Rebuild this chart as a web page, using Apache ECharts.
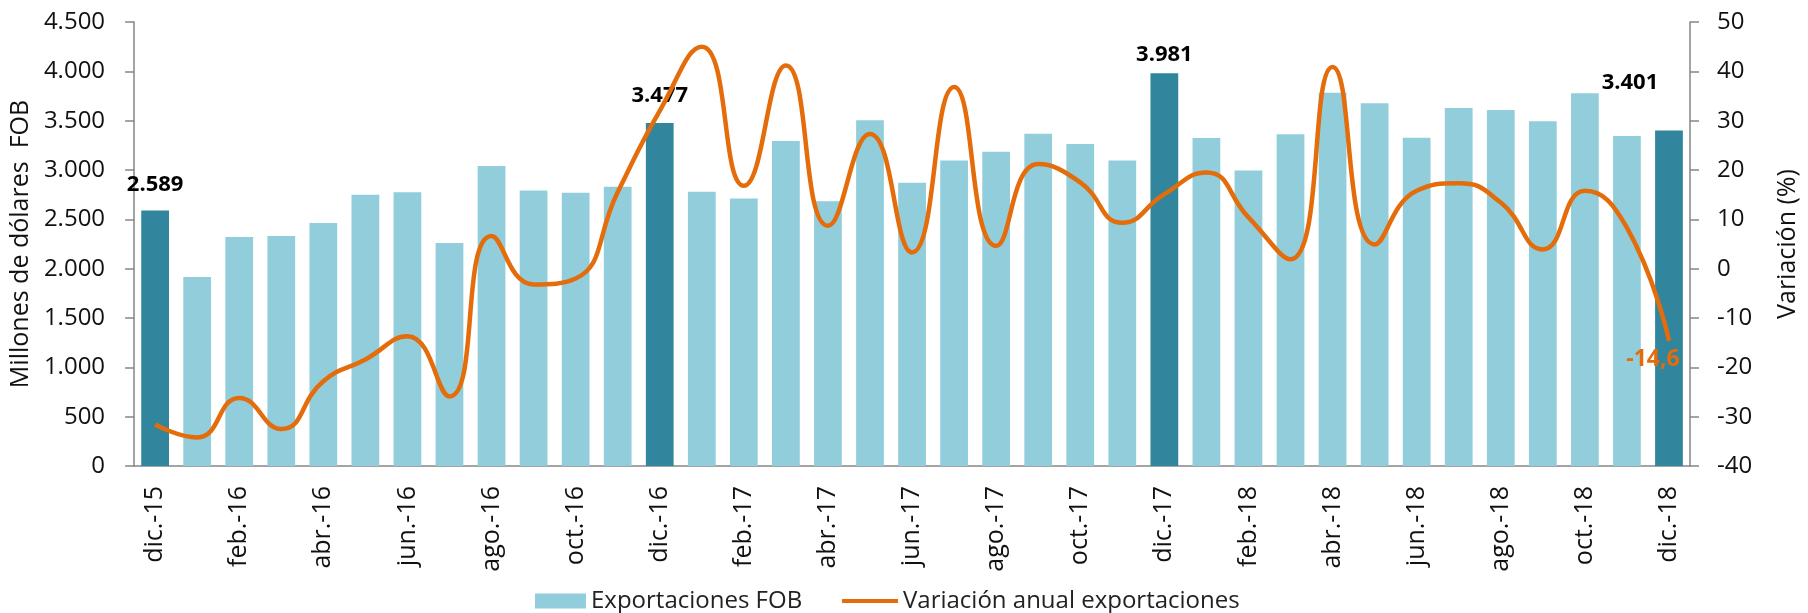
<!DOCTYPE html>
<html>
<head>
<meta charset="utf-8">
<script src="https://cdn.jsdelivr.net/npm/echarts@6/dist/echarts.min.js"></script>
<style>
  html, body { margin: 0; padding: 0; background: #fff; }
  #chart { width: 1808px; height: 613px; }
</style>
</head>
<body>
<div id="chart"></div>
<script>
const months = [
  'dic.-15',
  'ene.-16', 'feb.-16', 'mar.-16', 'abr.-16', 'may.-16', 'jun.-16', 'jul.-16', 'ago.-16', 'sep.-16', 'oct.-16', 'nov.-16', 'dic.-16',
  'ene.-17', 'feb.-17', 'mar.-17', 'abr.-17', 'may.-17', 'jun.-17', 'jul.-17', 'ago.-17', 'sep.-17', 'oct.-17', 'nov.-17', 'dic.-17',
  'ene.-18', 'feb.-18', 'mar.-18', 'abr.-18', 'may.-18', 'jun.-18', 'jul.-18', 'ago.-18', 'sep.-18', 'oct.-18', 'nov.-18', 'dic.-18',
]

// Exportaciones FOB, millones de dolares
const exportsFob = [
  2589,
  1915, 2321, 2331, 2464, 2748, 2775, 2260, 3040, 2792, 2769, 2830, 3477,
  2779, 2711, 3294, 2684, 3504, 2870, 3097, 3185, 3368, 3263, 3097, 3981,
  3324, 2996, 3362, 3782, 3677, 3328, 3629, 3609, 3494, 3778, 3345, 3401,
]

// Variacion anual, %
const variation = [
  -31.6,
  -34.2, -26.2, -32.5, -22.8, -18.4, -13.7, -25.9, 6.6, -3.2, -2.0, 15.5, 32.0,
  45.0, 16.8, 41.2, 8.7, 27.3, 3.3, 36.8, 4.6, 21.2, 17.5, 9.3, 15.1,
  19.5, 10.4, 1.9, 40.9, 4.9, 15.8, 17.3, 13.4, 3.9, 15.8, 8.3, -14.6,
]

// December months get the dark bar and a value label
const highlighted = [0, 12, 24, 36]

const LIGHT = '#92CDDC'
const DARK = '#31859C'
const ORANGE = '#E46C0A'
const AXIS = '#868686'
const FONT = 'Open Sans'

const fmtThousands = (v) => String(v).replace(/\B(?=(\d{3})+(?!\d))/g, '.')

// label placement tweaks for the december bars
const labelPlace = {
  0: { distance: 15, offset: [0, 0] },
  12: { distance: 16, offset: [0, 0] },
  24: { distance: 7, offset: [0, 0] },
  36: { distance: 8, offset: [-39, -29] },
}

const barData = exportsFob.map((v, i) => {
  const hi = highlighted.includes(i)
  const item = { value: v, itemStyle: { color: hi ? DARK : LIGHT } }
  if (hi) item.label = { show: true, position: 'top', ...labelPlace[i] }
  return item
})

const last = variation.length - 1

const chart = echarts.init(document.getElementById('chart'), null, { renderer: 'canvas' })

chart.setOption({
  animation: false,
  backgroundColor: '#fff',
  textStyle: { fontFamily: FONT },
  grid: { left: 131, right: 109, top: 22, bottom: 147 },
  legend: [
    {
      left: 530,
      top: 584,
      itemWidth: 51,
      itemHeight: 15,
      icon: 'rect',
      textStyle: { fontSize: 24, color: '#222', fontFamily: FONT },
      data: ['Exportaciones FOB'],
    },
    {
      left: 837,
      top: 584,
      itemWidth: 56,
      itemHeight: 4,
      icon: 'rect',
      textStyle: { fontSize: 24, color: '#222', fontFamily: FONT },
      data: ['Variación anual exportaciones'],
    },
  ],
  xAxis: {
    type: 'category',
    data: months,
    boundaryGap: true,
    axisLine: { lineStyle: { color: AXIS, width: 1.5 } },
    axisTick: { interval: 1, length: 9, lineStyle: { color: AXIS, width: 1.5 } },
    axisLabel: {
      interval: 1,
      rotate: 90,
      margin: 20,
      fontSize: 25,
      color: '#111',
      fontFamily: FONT,
    },
    splitLine: { show: false },
  },
  yAxis: [
    {
      type: 'value',
      min: 0,
      max: 4500,
      interval: 500,
      name: 'Millones de dólares  FOB',
      nameLocation: 'middle',
      nameRotate: 90,
      nameGap: 98,
      nameTextStyle: { fontSize: 25, color: '#111', fontFamily: FONT },
      axisLine: { show: true, lineStyle: { color: AXIS, width: 1.5 } },
      axisTick: { show: true, length: 9, lineStyle: { color: AXIS, width: 1.5 } },
      axisLabel: { fontSize: 24, color: '#111', margin: 29, fontFamily: FONT, formatter: fmtThousands },
      splitLine: { show: false },
    },
    {
      type: 'value',
      min: -40,
      max: 50,
      interval: 10,
      position: 'right',
      name: 'Variación (%)',
      nameLocation: 'middle',
      nameRotate: 90,
      nameGap: 85,
      nameTextStyle: { fontSize: 25, color: '#111', fontFamily: FONT },
      axisLine: { show: true, lineStyle: { color: AXIS, width: 1.5 } },
      axisTick: { show: true, length: 9, lineStyle: { color: AXIS, width: 1.5 } },
      axisLabel: { fontSize: 24, color: '#111', margin: 27, fontFamily: FONT },
      splitLine: { show: false },
    },
  ],
  series: [
    {
      name: 'Exportaciones FOB',
      type: 'bar',
      yAxisIndex: 0,
      barWidth: '66%',
      data: barData,
      itemStyle: { color: LIGHT },
      label: {
        show: false,
        color: '#000',
        fontWeight: 'bold',
        fontSize: 22,
        fontFamily: FONT,
        formatter: (p) => fmtThousands(p.value),
      },
    },
    {
      name: 'Variación anual exportaciones',
      type: 'line',
      yAxisIndex: 1,
      data: variation,
      smooth: 0.5,
      symbol: 'none',
      lineStyle: { color: ORANGE, width: 4.5 },
      itemStyle: { color: ORANGE },
      z: 5,
      markPoint: {
        symbol: 'circle',
        symbolSize: 1,
        itemStyle: { color: ORANGE },
        label: {
          show: true,
          position: 'inside',
          offset: [-16, 19],
          color: ORANGE,
          fontWeight: 'bold',
          fontSize: 23,
          fontFamily: FONT,
          formatter: (p) => String(p.value).replace('.', ','),
        },
        data: [{ coord: [last, variation[last]], value: variation[last] }],
      },
    },
  ],
})
</script>
</body>
</html>
